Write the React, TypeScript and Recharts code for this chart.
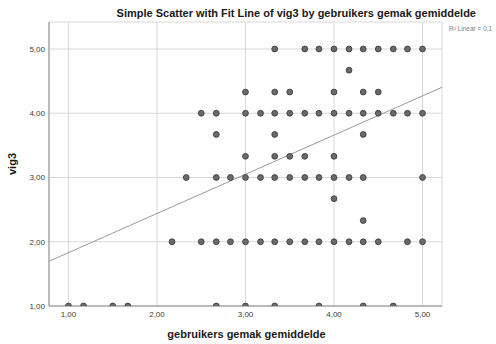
import React from 'react';
import {
  ScatterChart,
  Scatter,
  XAxis,
  YAxis,
  CartesianGrid,
  ReferenceLine,
} from 'recharts';

// Observed x values (gebruikers gemak gemiddelde), grouped by their vig3 value
const xAtVig500 = [3.33, 3.67, 3.83, 4.0, 4.17, 4.33, 4.5, 4.67, 4.83, 5.0];
const xAtVig467 = [4.17];
const xAtVig433 = [3.0, 3.33, 3.5, 4.0, 4.33, 4.5];
const xAtVig400 = [2.5, 2.67, 3.0, 3.17, 3.33, 3.5, 3.67, 3.83, 4.0, 4.17, 4.33, 4.5, 4.67, 4.83, 5.0];
const xAtVig367 = [2.67, 3.33, 4.33];
const xAtVig333 = [3.0, 3.33, 3.5, 3.67, 4.0];
const xAtVig300 = [2.33, 2.67, 2.83, 3.0, 3.17, 3.33, 3.5, 3.67, 3.83, 4.0, 4.17, 4.33, 5.0];
const xAtVig267 = [4.0];
const xAtVig233 = [4.33];
const xAtVig200 = [2.17, 2.5, 2.67, 2.83, 3.0, 3.17, 3.33, 3.5, 3.67, 3.83, 4.0, 4.17, 4.33, 4.5, 4.83, 5.0];
const xAtVig100 = [1.0, 1.17, 1.5, 1.67, 2.67, 3.0, 3.33, 3.83, 4.33, 4.67];

const vigLevels: [number, number[]][] = [
  [5.0, xAtVig500],
  [4.67, xAtVig467],
  [4.33, xAtVig433],
  [4.0, xAtVig400],
  [3.67, xAtVig367],
  [3.33, xAtVig333],
  [3.0, xAtVig300],
  [2.67, xAtVig267],
  [2.33, xAtVig233],
  [2.0, xAtVig200],
  [1.0, xAtVig100],
];

// Linear fit: vig3 = fitIntercept + fitSlope * gemak
const fitIntercept = 1.22;
const fitSlope = 0.61;
const rSquaredLabel = 'R\u00B2 Linear = 0,1';

const xTicks = [1, 2, 3, 4, 5];
const yTicks = [1, 2, 3, 4, 5];
const xDomain: [number, number] = [0.78, 5.22];
const yDomain: [number, number] = [1, 5.42];

const points = vigLevels.flatMap(([y, xs]) => xs.map((x) => ({ x, y })));
const fitSegment = xDomain.map((x) => ({ x, y: fitIntercept + fitSlope * x }));

const fmt = (v: number) => v.toFixed(2).replace('.', ',');

const FONT = '"Liberation Sans", Arial, sans-serif';

const Dot = (props: any) => {
  const { cx, cy } = props;
  if (cx == null || cy == null) return null;
  return <circle cx={cx} cy={cy} r={2.9} fill="#6b6b6b" stroke="#3c3c3c" strokeWidth={0.9} />;
};

export default function App() {
  return (
    <div
      style={{
        position: 'absolute',
        left: 0,
        top: 0,
        width: 496,
        height: 344,
        background: '#ffffff',
        fontFamily: FONT,
      }}
    >
      <ScatterChart
        width={496}
        height={344}
        margin={{ top: 22, right: 54, bottom: 8, left: 9 }}
        style={{ fontFamily: FONT }}
      >
        <CartesianGrid stroke="#d8d8d8" strokeWidth={1} />
        <XAxis
          type="number"
          dataKey="x"
          domain={xDomain}
          ticks={xTicks}
          tickFormatter={fmt}
          allowDataOverflow
          height={30}
          tickLine={false}
          tickSize={2}
          tickMargin={3}
          axisLine={{ stroke: '#8a8a8a' }}
          tick={{ fontSize: 8, fill: '#3a3a3a' }}
        />
        <YAxis
          type="number"
          dataKey="y"
          domain={yDomain}
          ticks={yTicks}
          tickFormatter={fmt}
          allowDataOverflow
          width={40}
          tickLine={false}
          tickSize={2}
          tickMargin={2}
          axisLine={{ stroke: '#8a8a8a' }}
          tick={{ fontSize: 8, fill: '#3a3a3a' }}
        />
        <ReferenceLine
          segment={fitSegment}
          stroke="#9a9a9a"
          strokeWidth={1}
          ifOverflow="hidden"
        />
        <Scatter data={points} shape={<Dot />} isAnimationActive={false} />
      </ScatterChart>
      <svg
        width={496}
        height={344}
        style={{ position: 'absolute', left: 0, top: 0, pointerEvents: 'none' }}
      >
        <text
          x={476}
          y={17}
          textAnchor="end"
          fontSize={11}
          fontWeight="bold"
          fill="#1a1a1a"
          fontFamily={FONT}
        >
          Simple Scatter with Fit Line of vig3 by gebruikers gemak gemiddelde
        </text>
        <text x={449} y={31} fontSize={6.5} fill="#808080" fontFamily={FONT}>
          {rSquaredLabel}
        </text>
        <text
          x={246.5}
          y={338}
          textAnchor="middle"
          fontSize={11}
          fontWeight="bold"
          fill="#1a1a1a"
          fontFamily={FONT}
        >
          gebruikers gemak gemiddelde
        </text>
        <text
          x={16}
          y={164}
          textAnchor="middle"
          fontSize={11}
          fontWeight="bold"
          fill="#1a1a1a"
          fontFamily={FONT}
          transform="rotate(-90, 16, 164)"
        >
          vig3
        </text>
      </svg>
    </div>
  );
}
